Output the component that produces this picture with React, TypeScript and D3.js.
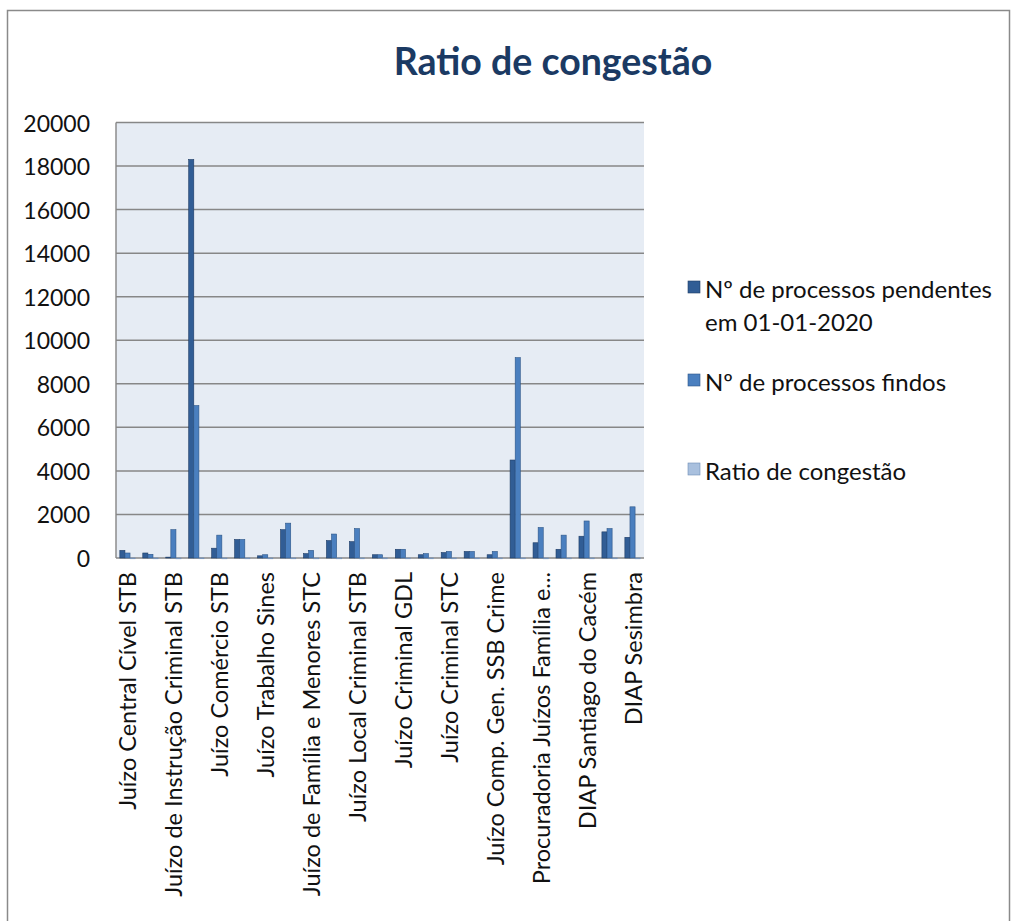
import React from 'react';
import * as d3 from 'd3';

const categories: string[] = [
  'Juízo Central Cível STB',
  'Juízo Central Criminal STB',
  'Juízo de Instrução Criminal STB',
  'Juízo Local Cível STB',
  'Juízo Comércio STB',
  'Juízo Execução STB',
  'Juízo Trabalho Sines',
  'Juízo Trabalho STB',
  'Juízo de Família e Menores STC',
  'Juízo de Família e Menores STB',
  'Juízo Local Criminal STB',
  'Juízo Local Cível GDL',
  'Juízo Criminal GDL',
  'Juízo Cível STC',
  'Juízo Criminal STC',
  'Juízo Comp. Gen. SSB Cível',
  'Juízo Comp. Gen. SSB Crime',
  'DIAP Setúbal',
  'Procuradoria Juízos Família e Menores',
  'DIAP Grândola',
  'DIAP Santiago do Cacém',
  'DIAP Sines',
  'DIAP Sesimbra',
];

const pendentes: number[] = [350, 230, 40, 18300, 450, 850, 100, 1300, 200, 800, 750, 150, 400, 150, 250, 300, 150, 4500, 700, 400, 1000, 1200, 950];
const findos: number[] = [230, 170, 1300, 7000, 1050, 850, 150, 1600, 350, 1100, 1350, 150, 400, 200, 300, 300, 300, 9200, 1400, 1050, 1700, 1350, 2350];
const ratio: number[] = [1.5, 1.4, 0.1, 2.6, 0.4, 1.0, 0.7, 0.8, 0.6, 0.7, 0.6, 1.0, 1.0, 0.8, 0.8, 1.0, 0.5, 0.5, 0.5, 0.4, 0.6, 0.9, 0.4];

const seriesNames: string[] = ['Nº de processos pendentes em 01-01-2020', 'Nº de processos findos', 'Ratio de congestão'];
const seriesColors: string[] = ['#315d95', '#4a7fbf', '#a9c0de'];
const seriesStroke: string[] = ['#1f3d66', '#2c5587', '#6f8db5'];
const yTicks: number[] = [0, 2000, 4000, 6000, 8000, 10000, 12000, 14000, 16000, 18000, 20000];

const W = 1017;
const H = 921;
const plot = { left: 116, right: 644, top: 122.5, bottom: 558 };
const font = 'Lato, "Open Sans", sans-serif';

export default function App() {
  const x = d3.scaleBand<string>()
    .domain(categories)
    .range([plot.left, plot.right])
    .paddingInner(1.5 / 4.5)
    .paddingOuter(0.75 / 4.5);
  const inner = d3.scaleBand<number>().domain([0, 1, 2]).range([0, x.bandwidth()]);
  const y = d3.scaleLinear().domain([0, 20000]).range([plot.bottom, plot.top]);

  const series = [pendentes, findos, ratio];

  return (
    <svg width={W} height={H} style={{ position: 'absolute', left: 0, top: 0, background: '#fff' }}>
      <rect x={7.5} y={10.5} width={1002} height={H} fill="#fff" stroke="#8a8a8a" strokeWidth={1.5} />
      <text x={553} y={75} textAnchor="middle" fontFamily={font} fontWeight="bold" fontSize={37.5} fill="#1b3a63">
        Ratio de congestão
      </text>

      <rect x={plot.left} y={plot.top} width={plot.right - plot.left} height={plot.bottom - plot.top} fill="#e6ecf4" />
      <line x1={plot.left} x2={plot.left} y1={plot.top} y2={plot.bottom} stroke="#8c8c8c" strokeWidth={1.5} />
      {yTicks.map(t => (
        <g key={t}>
          <line x1={plot.left} x2={plot.right} y1={y(t)} y2={y(t)} stroke="#878787" strokeWidth={1.5} />
          <text x={90} y={y(t)} textAnchor="end" dominantBaseline="central" fontFamily={font} fontSize={23} fill="#111">
            {t}
          </text>
        </g>
      ))}

      {categories.map((c, i) => (
        <g key={c}>
          {series.map((s, k) => {
            const top = y(s[i]);
            return (
              <rect
                key={k}
                x={(x(c) ?? 0) + (inner(k) ?? 0)}
                y={top}
                width={inner.bandwidth()}
                height={Math.max(0.8, plot.bottom - top)}
                fill={seriesColors[k]}
                stroke={seriesStroke[k]}
                strokeWidth={0.6}
              />
            );
          })}
        </g>
      ))}

      {categories.map((c, i) =>
        i % 2 === 0 ? (
          <text
            key={c}
            transform={`translate(${(x(c) ?? 0) + x.bandwidth() / 2},${572}) rotate(-90)`}
            textAnchor="end"
            dominantBaseline="central"
            fontFamily={font}
            fontSize={23.5}
            fill="#111"
          >
            {c.length > 32 ? c.slice(0, 29) + '...' : c}
          </text>
        ) : null
      )}

      <g fontFamily={font} fontSize={24} fill="#111">
        <rect x={688} y={281} width={12} height={12} fill={seriesColors[0]} stroke={seriesStroke[0]} strokeWidth={0.6} />
        <text x={705} y={288} dominantBaseline="central">Nº de processos pendentes</text>
        <text x={705} y={321} dominantBaseline="central">em 01-01-2020</text>
        <rect x={688} y={374} width={12} height={12} fill={seriesColors[1]} stroke={seriesStroke[1]} strokeWidth={0.6} />
        <text x={705} y={381} dominantBaseline="central">{seriesNames[1]}</text>
        <rect x={688} y={463} width={12} height={12} fill={seriesColors[2]} stroke={seriesStroke[2]} strokeWidth={0.6} />
        <text x={705} y={470} dominantBaseline="central">{seriesNames[2]}</text>
      </g>
    </svg>
  );
}
